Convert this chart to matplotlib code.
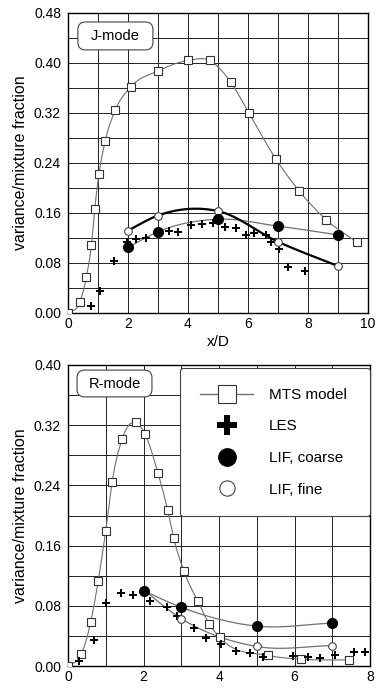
import numpy as np
import matplotlib
matplotlib.use("Agg")
import matplotlib.pyplot as plt
from matplotlib.lines import Line2D
from matplotlib.patches import FancyBboxPatch

plt.rcParams['font.family'] = ['Liberation Sans', 'DejaVu Sans']

# ---- J-mode (top) data ----
j_mts_x = [0.0, 0.39, 0.61, 0.78, 0.89, 1.03, 1.24, 1.58, 2.1, 2.99, 4.0, 4.72, 5.43, 6.03, 6.92, 7.71, 8.61, 9.64]
j_mts_y = [0.0, 0.017, 0.057, 0.109, 0.166, 0.222, 0.275, 0.325, 0.362, 0.387, 0.404, 0.404, 0.369, 0.32, 0.247, 0.195, 0.149, 0.113]
j_les_x = [0.76, 1.08, 1.53, 1.95, 2.26, 2.61, 3.36, 3.65, 4.11, 4.48, 4.83, 5.22, 5.61, 5.92, 6.2, 6.59, 6.75, 7.04, 7.33, 7.91]
j_les_y = [0.011, 0.035, 0.083, 0.113, 0.118, 0.12, 0.131, 0.13, 0.141, 0.142, 0.144, 0.137, 0.136, 0.125, 0.128, 0.125, 0.114, 0.102, 0.074, 0.068]
j_coarse_x = [2, 3, 5, 7, 9]
j_coarse_y = [0.105, 0.13, 0.15, 0.139, 0.125]
j_fine_x = [2, 3, 5, 7, 9]
j_fine_y = [0.132, 0.156, 0.163, 0.114, 0.075]

# ---- R-mode (bottom) data ----
r_mts_x = [0.0, 0.35, 0.6, 0.8, 1.0, 1.17, 1.43, 1.79, 2.04, 2.38, 2.64, 2.8, 3.07, 3.44, 3.74, 4.02, 5.31, 6.18, 7.45]
r_mts_y = [0.0, 0.0155, 0.058, 0.113, 0.18, 0.245, 0.301, 0.324, 0.308, 0.257, 0.207, 0.17, 0.126, 0.086, 0.056, 0.038, 0.014, 0.009, 0.008]
r_les_x = [0.28, 0.69, 1.0, 1.4, 1.73, 2.18, 2.62, 2.9, 3.34, 3.65, 4.06, 4.44, 4.81, 5.17, 5.96, 6.35, 6.68, 7.08, 7.57, 7.86]
r_les_y = [0.007, 0.035, 0.084, 0.097, 0.094, 0.086, 0.079, 0.066, 0.05, 0.037, 0.029, 0.02, 0.017, 0.012, 0.013, 0.012, 0.011, 0.015, 0.018, 0.019]
r_coarse_x = [2, 3, 5, 7]
r_coarse_y = [0.1, 0.078, 0.053, 0.057]
r_fine_x = [2, 3, 5, 7]
r_fine_y = [0.101, 0.063, 0.026, 0.027]

legend_labels = ['MTS model', 'LES', 'LIF, coarse', 'LIF, fine']


def smooth(x, y, n=30):
    # hermite curve through the points (catmull-rom like)
    x = np.asarray(x, float)
    y = np.asarray(y, float)
    m = np.gradient(y, x)
    xs, ys = [], []
    for i in range(len(x) - 1):
        h = x[i + 1] - x[i]
        t = np.linspace(0, 1, n)
        h00 = 2 * t**3 - 3 * t**2 + 1
        h10 = t**3 - 2 * t**2 + t
        h01 = -2 * t**3 + 3 * t**2
        h11 = t**3 - t**2
        xs.append(x[i] + h * t)
        ys.append(h00 * y[i] + h10 * h * m[i] + h01 * y[i + 1] + h11 * h * m[i + 1])
    return np.concatenate(xs), np.concatenate(ys)


gray = '#707070'


def draw(ax, mts, les, coarse, fine, fine_lw):
    sx, sy = smooth(*mts)
    ax.plot(sx, sy, color=gray, lw=0.8, zorder=3)
    ax.plot(*mts, ls='none', marker='s', ms=5.5, mfc='white', mec='#333333', mew=0.8, zorder=4)
    ax.plot(*les, ls='none', marker='P', ms=6, mfc='black', mec='black', mew=0, zorder=5)
    sx, sy = smooth(*coarse)
    ax.plot(sx, sy, color=gray, lw=0.9, zorder=3)
    ax.plot(*coarse, ls='none', marker='o', ms=7, mfc='black', mec='black', zorder=6)
    sx, sy = smooth(*fine)
    ax.plot(sx, sy, color='black' if fine_lw > 1 else gray, lw=fine_lw, zorder=3)
    ax.plot(*fine, ls='none', marker='o', ms=5.5, mfc='white', mec='#444444', mew=0.8, zorder=5)


def style(ax, xmax, ymax):
    ax.set_xlim(0, xmax)
    ax.set_ylim(0, ymax)
    ax.set_xticks(np.arange(0, xmax + 0.1, 2))
    ax.set_xticks(np.arange(0, xmax + 0.1, 1), minor=True)
    ax.set_yticks(np.arange(0, ymax + 0.001, 0.08))
    ax.set_yticks(np.arange(0, ymax + 0.001, 0.04), minor=True)
    ax.yaxis.set_major_formatter(matplotlib.ticker.FormatStrFormatter('%.2f'))
    ax.grid(True, which='both', color='#222222', lw=0.7)
    ax.tick_params(which='both', length=0, labelsize=10)
    ax.tick_params(axis='x', pad=3)
    ax.tick_params(axis='y', pad=5)
    ax.set_ylabel('variance/mixture fraction', fontsize=11.5, labelpad=4)
    for s in ax.spines.values():
        s.set_linewidth(1.0)


def mode_box(ax, x0, y0, x1, y1, txt):
    box = FancyBboxPatch((x0, y0), x1 - x0, y1 - y0, boxstyle='round,pad=0,rounding_size=0.025',
                         transform=ax.transAxes, fc='white', ec='#444444', lw=0.8, zorder=10)
    ax.add_patch(box)
    ax.text((x0 + x1) / 2, (y0 + y1) / 2, txt, transform=ax.transAxes, ha='center', va='center',
            fontsize=10.5, zorder=11)


fig = plt.figure(figsize=(3.76, 6.89), dpi=100)

ax1 = fig.add_axes([68 / 376, 1 - 313 / 689, 300 / 376, 300 / 689])
draw(ax1, (j_mts_x, j_mts_y), (j_les_x, j_les_y), (j_coarse_x, j_coarse_y), (j_fine_x, j_fine_y), 1.6)
style(ax1, 10, 0.48)
ax1.set_xlabel('x/D', fontsize=11, labelpad=3)
mode_box(ax1, 0.033, 0.877, 0.283, 0.970, 'J-mode')

ax2 = fig.add_axes([68 / 376, 1 - 666 / 689, 302 / 376, 301 / 689])
draw(ax2, (r_mts_x, r_mts_y), (r_les_x, r_les_y), (r_coarse_x, r_coarse_y), (r_fine_x, r_fine_y), 0.9)
style(ax2, 8, 0.40)
mode_box(ax2, 0.030, 0.894, 0.278, 0.983, 'R-mode')

handles = [
    Line2D([], [], color=gray, lw=1, marker='s', ms=13, mfc='white', mec='#333333', mew=0.8),
    Line2D([], [], ls='none', marker='P', ms=14, mfc='black', mec='black', mew=0),
    Line2D([], [], ls='none', marker='o', ms=12.5, mfc='black', mec='black'),
    Line2D([], [], ls='none', marker='o', ms=11, mfc='white', mec='#444444', mew=0.8),
]
leg = ax2.legend(handles, legend_labels, loc='upper left', bbox_to_anchor=(0.371, 0.5, 0.629, 0.49),
                 mode='expand', fontsize=11, handlelength=3.5, handletextpad=1.0, labelspacing=1.15,
                 borderpad=1.3, borderaxespad=0, fancybox=True, framealpha=1, edgecolor='#444444')
leg.get_frame().set_linewidth(0.8)
leg.set_zorder(10)

fig.savefig('out.png', dpi=100)
